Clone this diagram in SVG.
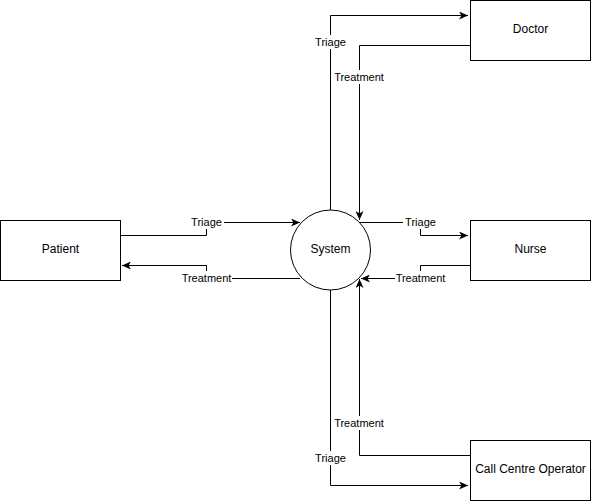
<svg xmlns="http://www.w3.org/2000/svg" width="591" height="501" viewBox="0 0 591 501">
<defs>
<marker id="arr" markerWidth="10" markerHeight="8" refX="9" refY="4" orient="auto" markerUnits="userSpaceOnUse">
<path d="M0,0 L9,4 L0,8 L2.5,4 Z" fill="#000"/>
</marker>
<style>
.box{fill:#fff;stroke:#000;stroke-width:1}
.lbl{font-family:"Liberation Sans",Arial,sans-serif;font-size:12px;fill:#000;text-anchor:middle;dominant-baseline:central}
.elbl{font-family:"Liberation Sans",Arial,sans-serif;font-size:11px;fill:#000;text-anchor:middle;dominant-baseline:central}
.bg{fill:#fff}
.edge{fill:none;stroke:#000;stroke-width:1}
</style>
</defs>
<rect width="591" height="501" fill="#fff"/>
<g id="connectors">
<path class="edge" d="M330.5,210 V15.5 H468" marker-end="url(#arr)"/>
<path class="edge" d="M470,45.5 H359.5 V220" marker-end="url(#arr)"/>
<path class="edge" d="M120,235.5 H206.5 V222.5 H300" marker-end="url(#arr)"/>
<path class="edge" d="M300,278.5 H206.5 V265.5 H122" marker-end="url(#arr)"/>
<path class="edge" d="M359,222.5 H420.5 V235.5 H468" marker-end="url(#arr)"/>
<path class="edge" d="M470,265.5 H420.5 V278.5 H361" marker-end="url(#arr)"/>
<path class="edge" d="M470,455.5 H359.5 V279" marker-end="url(#arr)"/>
<path class="edge" d="M330.5,290 V485.5 H468" marker-end="url(#arr)"/>
<rect class="bg" x="313" y="35" width="35" height="14"/>
<text class="elbl" x="330.5" y="42">Triage</text>
<rect class="bg" x="333" y="70" width="52" height="14"/>
<text class="elbl" x="359" y="77">Treatment</text>
<rect class="bg" x="189" y="215" width="35" height="14"/>
<text class="elbl" x="206.5" y="222">Triage</text>
<rect class="bg" x="180" y="271" width="52" height="14"/>
<text class="elbl" x="206.5" y="278">Treatment</text>
<rect class="bg" x="403" y="215" width="35" height="14"/>
<text class="elbl" x="420.5" y="222">Triage</text>
<rect class="bg" x="395" y="271" width="52" height="14"/>
<text class="elbl" x="420.5" y="278">Treatment</text>
<rect class="bg" x="333" y="416" width="52" height="14"/>
<text class="elbl" x="359" y="423">Treatment</text>
<rect class="bg" x="313" y="451" width="35" height="14"/>
<text class="elbl" x="330.5" y="458">Triage</text>
</g>
<g id="doctor">
<rect class="box" x="470.5" y="0.5" width="120" height="60"/>
<text class="lbl" x="530.5" y="29">Doctor</text>
</g>
<g id="patient">
<rect class="box" x="0.5" y="220.5" width="120" height="60"/>
<text class="lbl" x="60.5" y="249">Patient</text>
</g>
<g id="nurse">
<rect class="box" x="470.5" y="220.5" width="120" height="60"/>
<text class="lbl" x="530.5" y="249">Nurse</text>
</g>
<g id="system">
<circle class="box" cx="330.5" cy="250" r="40"/>
<text class="lbl" x="330.5" y="249">System</text>
</g>
<g id="call-centre-operator">
<rect class="box" x="470.5" y="440.5" width="120" height="60"/>
<text class="lbl" x="530.5" y="469">Call Centre Operator</text>
</g>
</svg>
